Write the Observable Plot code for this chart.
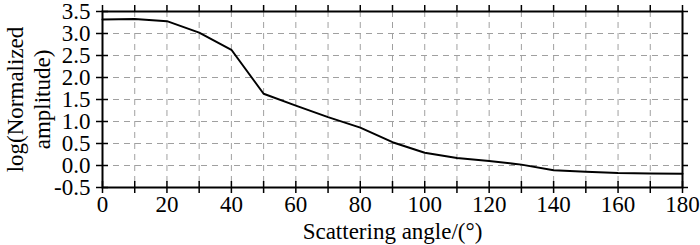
<!DOCTYPE html>
<html><head><meta charset="utf-8">
<script src="https://cdn.jsdelivr.net/npm/d3@7"></script>
<script src="https://cdn.jsdelivr.net/npm/@observablehq/plot@0.6"></script>
<style>body{margin:0;background:#fff}</style>
</head><body><div id="chart"></div>
<script>
const angles = [0,10,20,30,40,50,60,70,80,90,100,110,120,130,140,150,160,170,180];
const amplitude = [3.32,3.33,3.28,3.02,2.63,1.63,1.36,1.10,0.86,0.53,0.29,0.17,0.10,0.02,-0.11,-0.14,-0.17,-0.18,-0.19];
const xLabelTicks = [0,20,40,60,80,100,120,140,160,180];
const xMinorTicks = [0,10,20,30,40,50,60,70,80,90,100,110,120,130,140,150,160,170,180];
const yTicks = [-0.5,0,0.5,1,1.5,2,2.5,3,3.5];
const xGrid = [10,20,30,40,50,60,70,80,90,100,110,120,130,140,150,160,170];
const yGrid = [0,0.5,1,1.5,2,2.5,3];
const xTitle = "Scattering angle/(°)";
const yTitle = "log(Normalized\namplitude)";

const data = angles.map((a,i)=>({a, v: amplitude[i]}));
const W = 700, H = 245, mT = 11, mB = 58, mL = 102, mR = 18;
const ph = H - mT - mB, pw = W - mL - mR;
const T = 6;
const font = "Liberation Serif";
const FS = 23;

const chart = Plot.plot({
  width: W, height: H,
  marginTop: mT, marginBottom: mB, marginLeft: mL, marginRight: mR,
  style: {fontFamily: font, fontSize: FS + "px", color: "#000", background: "#fff"},
  x: {domain: [0,180]},
  y: {domain: [-0.5,3.5]},
  marks: [
    Plot.ruleX(xGrid, {x: d=>d, stroke: "#a0a0a0", strokeWidth: 1, strokeDasharray: "6,5", strokeOpacity: 1}),
    Plot.ruleY(yGrid, {y: d=>d, stroke: "#a0a0a0", strokeWidth: 1, strokeDasharray: "6,5", strokeOpacity: 1}),
    Plot.frame({stroke: "#000", strokeWidth: 2}),
    // bottom: crossing ticks
    Plot.ruleX(xMinorTicks, {x: d=>d, insetTop: ph - T, insetBottom: -T, stroke: "#000", strokeWidth: 1.5}),
    // top: outward ticks
    Plot.ruleX(xMinorTicks, {x: d=>d, insetTop: -T, insetBottom: ph, stroke: "#000", strokeWidth: 1.5}),
    // left: crossing ticks
    Plot.ruleY(yTicks, {y: d=>d, insetLeft: -T, insetRight: pw - T, stroke: "#000", strokeWidth: 1.5}),
    // right: outward ticks
    Plot.ruleY(yTicks, {y: d=>d, insetLeft: pw, insetRight: -T, stroke: "#000", strokeWidth: 1.5}),
    Plot.axisX({ticks: xLabelTicks, tickSize: 0, tickPadding: 8, label: null, fontSize: FS, tickFormat: d=>String(d)}),
    Plot.axisY({ticks: yTicks, tickSize: 0, tickPadding: 12, label: null, fontSize: FS, tickFormat: d=>d.toFixed(1)}),
    Plot.line(data, {x: "a", y: "v", stroke: "#000", strokeWidth: 2}),
    Plot.text([xTitle], {text: d=>d, frameAnchor: "bottom", dy: 51, fontSize: FS, lineAnchor: "bottom"}),
    Plot.text([yTitle], {text: d=>d, frameAnchor: "left", textAnchor: "middle", rotate: -90, dx: -75, fontSize: FS, lineHeight: 1.17})
  ]
});
document.getElementById("chart").appendChild(chart);
</script>
</body></html>
